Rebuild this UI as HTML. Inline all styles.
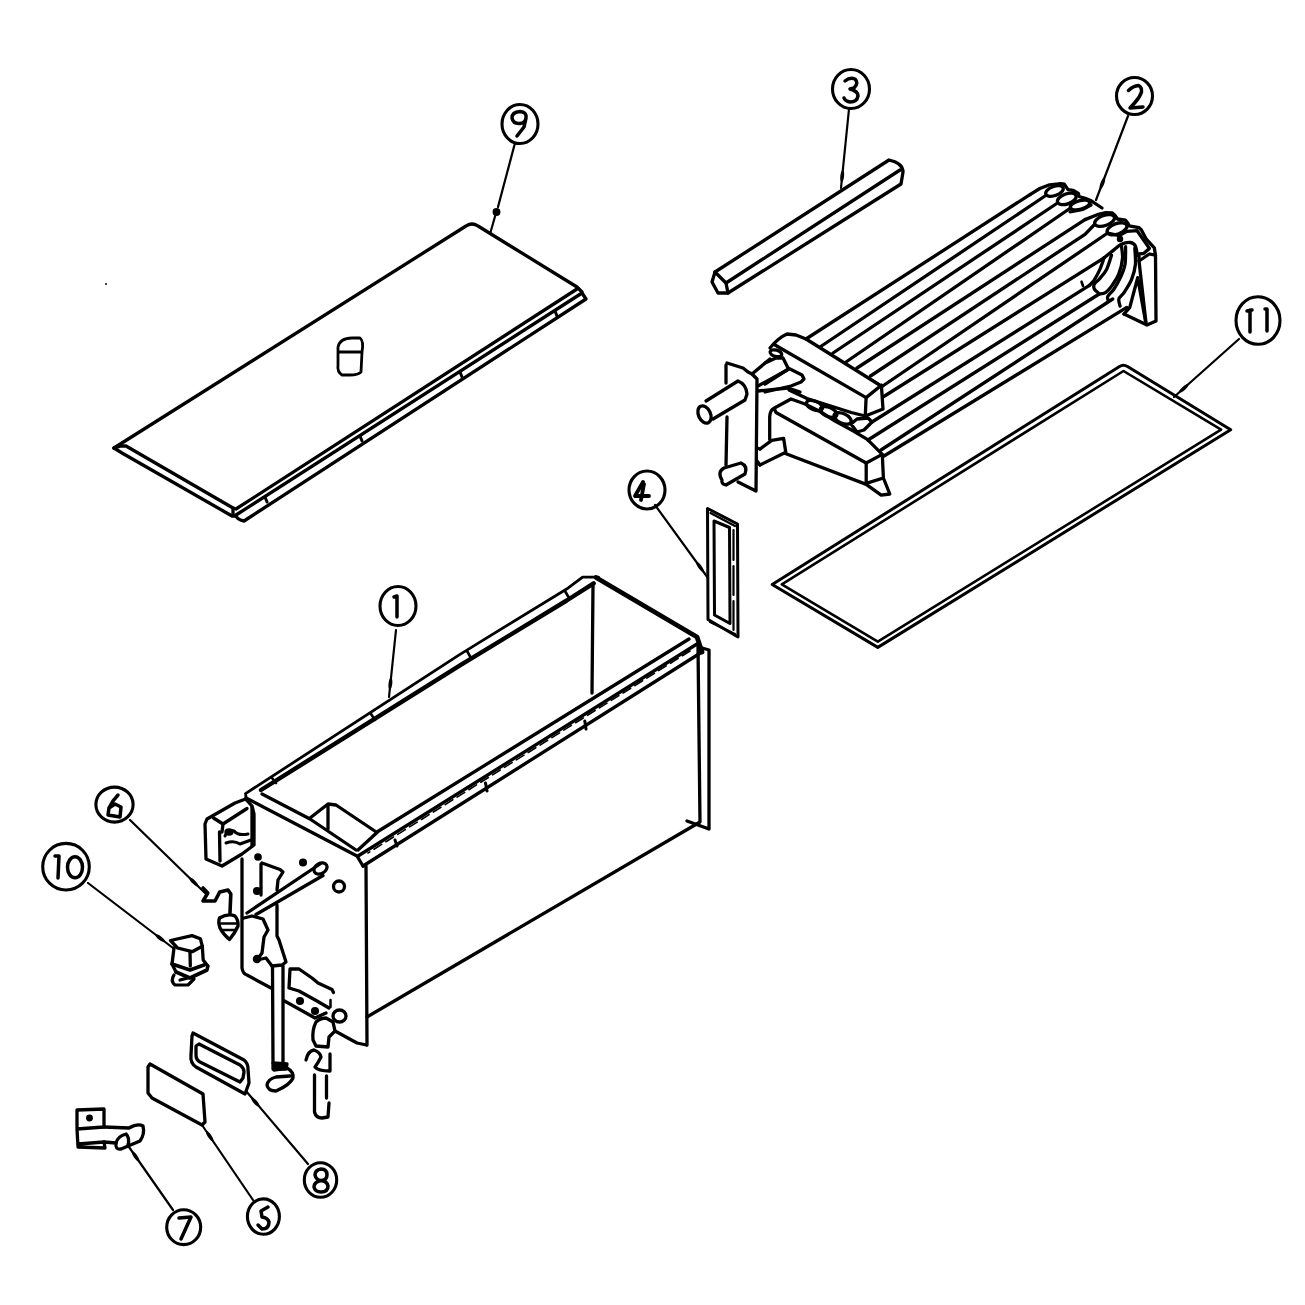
<!DOCTYPE html>
<html><head><meta charset="utf-8">
<style>
html,body{margin:0;padding:0;background:#fff;}
body{width:1305px;height:1305px;overflow:hidden;}
svg{display:block;}
</style></head><body>
<svg width="1305" height="1305" viewBox="0 0 1305 1305">
<g fill="none" stroke="#000" stroke-width="3.3" stroke-linecap="round" stroke-linejoin="round">

<!-- ===== callouts ===== -->
<g stroke-width="3.1">
<ellipse cx="520" cy="124" rx="18" ry="19.5"/>
<ellipse cx="851" cy="89" rx="18.5" ry="19.5"/>
<ellipse cx="1134.5" cy="96" rx="18" ry="18.5"/>
<ellipse cx="1258" cy="320.5" rx="22" ry="23.8"/>
<ellipse cx="647" cy="490" rx="18" ry="19"/>
<ellipse cx="398" cy="606" rx="18" ry="19.5"/>
<ellipse cx="114.5" cy="804.6" rx="18.6" ry="17.5"/>
<ellipse cx="66" cy="866.7" rx="23.3" ry="23.3"/>
<ellipse cx="320.5" cy="1180" rx="16.2" ry="17.3"/>
<ellipse cx="263.4" cy="1216.6" rx="16" ry="17.7"/>
<ellipse cx="183.7" cy="1227.2" rx="17" ry="17.4"/>
</g>
<path stroke-width="2.2" d="M515,143 L498,207 M496,213 L490,234 M849,109 L841,188 M1128,116 L1096,200 M1239,339 L1174,397 M655,505 L708,578 M396,630 L389,697 M130,820 L205,893 M88,883 L173,948 M308,1164 L246,1091 M253,1200 L202,1125 M173,1210 L129,1147"/>
<ellipse cx="842.2" cy="176.1" rx="6" ry="1.9" transform="rotate(95.8 842.2 176.1)" fill="#000" stroke="none"/>
<ellipse cx="1102.4" cy="183.2" rx="6" ry="1.9" transform="rotate(110.9 1102.4 183.2)" fill="#000" stroke="none"/>
<ellipse cx="1183.8" cy="388.3" rx="6" ry="1.9" transform="rotate(138.3 1183.8 388.3)" fill="#000" stroke="none"/>
<ellipse cx="700.0" cy="567.0" rx="6" ry="1.9" transform="rotate(54.0 700.0 567.0)" fill="#000" stroke="none"/>
<ellipse cx="390.4" cy="683.6" rx="6" ry="1.9" transform="rotate(96.0 390.4 683.6)" fill="#000" stroke="none"/>
<ellipse cx="193.8" cy="882.0" rx="6" ry="1.9" transform="rotate(44.2 193.8 882.0)" fill="#000" stroke="none"/>
<ellipse cx="160.2" cy="938.2" rx="6" ry="1.9" transform="rotate(37.4 160.2 938.2)" fill="#000" stroke="none"/>
<ellipse cx="255.3" cy="1102.0" rx="6" ry="1.9" transform="rotate(-130.3 255.3 1102.0)" fill="#000" stroke="none"/>
<ellipse cx="209.7" cy="1136.2" rx="6" ry="1.9" transform="rotate(-124.2 209.7 1136.2)" fill="#000" stroke="none"/>
<ellipse cx="135.6" cy="1156.5" rx="6" ry="1.9" transform="rotate(-124.9 135.6 1156.5)" fill="#000" stroke="none"/>

<circle cx="106" cy="284" r="1" fill="#000" stroke="none"/>
<!-- ===== panel 9 ===== -->
<path d="M114,448 L466,226 Q472,222 478,226 L577,287 L582,292"/>
<path d="M114,448 L121,446 L126,446 L233,508 L236,509 L577,289"/>
<path d="M114,448 L122,453 L232,516 L236,516"/>
<path d="M233,508 L233,515 M236,515 L582,293 L586,299 L244,521 Q238,520 236,516"/>
<path d="M265,497 L267,502 M360,436 L362,441 M460,372 L462,377 M555,311 L557,316" stroke-width="3"/>
<circle cx="496.5" cy="212" r="2.3" fill="#000"/>
<path d="M338,347 Q340,338 352,338 L360,338 Q364,341 362,352 L361,372 Q358,375 350,375 L342,375 Q337,372 338,365 Z M338,352 L362,352" stroke-width="2.8"/>

<!-- ===== rod 3 ===== -->
<path d="M715,272 L889,160 Q903,163 903,172 L901,184 L728,293"/>
<path d="M726,283 L900,170"/>
<path d="M715,272 L712,282 L718,293 L728,293 L726,283 Z"/>

<!-- ===== gasket 11 ===== -->
<path d="M772.2,584.5 L1119.5,366.5 Q1123.5,364 1127.5,366.5 L1230.7,429.7 L877.8,647.4 Z" stroke-width="3"/>
<path d="M781.8,584.4 L1123.5,371 L1221.1,429.7 L877.8,641.6 Z" stroke-width="2.6"/>

<!-- ===== gasket 4 ===== -->
<path d="M707.5,508.5 L737.5,524 L738,637 L708,619.5 Z" stroke-width="3"/>
<path d="M714,521 L729.5,527.5 L730,623.5 L714.5,615 Z" stroke-width="3"/>
<path d="M733.5,530 L733.5,560 M733.5,566 L733.5,595 M733.5,601 L733.5,630 M710,622 L735,634 M710.5,513 L735,526" stroke-width="2.2"/>

<!-- ===== box 1 ===== -->
<path d="M246,797 L245.5,793.6 L460,654.4 L567.9,588.2 L582.6,577.2 L598.5,577.2" stroke-width="2.8"/>
<path d="M261,790 L460,665.4 L566.7,600.5 L593.6,583.3" stroke-width="4.4"/>
<path d="M596,577.5 L697,637 L702,652" stroke-width="4.8"/>
<path d="M272,778 L276,783 M371,714 L375,720 M467,651 L471,658 M565,591 L569,598" stroke-width="2.6"/>
<path d="M593,585 L592,693"/>
<path d="M689,639 L377,832"/>
<path d="M697,644 L358,856"/>
<path d="M702,652 L363,866"/>
<path d="M246,798 L357,856 L363,866"/>
<path d="M262,794 L310,819 L356,850"/>
<path d="M310,818 L328,804 L336,805 L377,832.5 L358,850 M328,806 L328,829"/>
<path d="M690,651 L368,853" stroke-width="1.6" stroke-dasharray="9 5"/>
<path d="M485.5,783 L487,791 M584.8,721 L586,729 M395,840 L397,846" stroke-width="3"/>
<path d="M698,646 L700,822 L367,1017"/>
<path d="M702,648 L709,650 L709,829 L687,821"/>
<path d="M366,866 L367,1045"/>
<path d="M252,807 L252,846"/>

<!-- ===== coil 2 ===== -->
<g id="coil">
<!-- tube lines -->
<path d="M806,339 L1030,194.6 M820,347 L1045,196 M833,353 L1057.5,203 M846,362 L1070.5,208 M857,368 L1085,219.6 M870.5,376 L1085,234.3 L1094,225 M882,386.5 L1107.7,233 M883,397 L1104.1,257.8 M872,422 L1089.4,285.4 M868,440 L1099.2,294 M881,450 L1112.7,299 M884,456 L1126.8,307.4"/>
<!-- caps row 1 -->
<path d="M1030,194.6 L1039.8,188.5 L1049.6,184.8 L1060.7,183.6 L1064.3,184.2 L1068,189.7 L1072.9,190.3 L1078.4,193.4 L1079,196.5 L1085.2,198.3 L1091.3,200.8 L1102,208"/>
<ellipse cx="1054.5" cy="191" rx="9.2" ry="4.6" transform="rotate(-20 1054.5 191)"/>
<ellipse cx="1066.8" cy="198.9" rx="9.8" ry="5" transform="rotate(-20 1066.8 198.9)"/>
<ellipse cx="1080" cy="205" rx="10" ry="4.3" transform="rotate(-15 1080 205)"/>
<path d="M1070,211.8 L1083,209.3 L1091,205"/>
<!-- caps row 2 + outer bend + bracket -->
<path d="M1085,219.6 L1097.3,214.7 L1105.8,212.6 L1112,212.9 L1115,215.3 L1117.5,219 L1125.5,220.2 L1128,223.3 L1129.1,225.8 L1139,227.6 L1141.4,230 L1146.3,239.2 L1154.3,247.8 L1155.5,255.2 L1156,321 L1147,325 L1124,314"/>
<ellipse cx="1104.6" cy="220.5" rx="10.4" ry="5" transform="rotate(-20 1104.6 220.5)"/>
<ellipse cx="1117" cy="228.8" rx="10.4" ry="5.2" transform="rotate(-20 1117 228.8)"/>
<path d="M1107.7,233 L1119.3,235.6 L1126.7,231.3 L1137.1,230.7 L1149.4,248.4 L1143.9,253.3 L1139,254 L1139,261 L1146,323"/>
<path d="M1139,261 L1149.4,254 L1155.5,255.2"/>
<path d="M1104.1,257.8 C1103.4,259.7 1101.5,265.7 1099.9,269.4 C1098.3,273.1 1096.0,277.2 1094.3,279.9 C1092.5,282.6 1090.2,284.5 1089.4,285.4"/>
<path d="M1111.5,255.3 C1110.7,257.6 1108.6,265.4 1106.6,269.4 C1104.5,273.4 1101.2,276.8 1099.2,279.2 C1097.2,281.6 1095.1,282.5 1094.3,284.1 C1093.5,285.7 1093.7,287.6 1094.3,289.0 C1094.9,290.4 1097.4,292.1 1098.0,292.7"/>
<path d="M1121.3,244.9 C1121.5,247.2 1122.9,253.6 1122.5,258.4 C1122.1,263.2 1120.6,269.2 1118.9,273.7 C1117.2,278.2 1114.3,282.2 1112.1,285.4 C1109.8,288.6 1107.6,291.3 1105.4,292.7 C1103.2,294.1 1100.2,293.8 1099.2,294.0"/>
<path d="M1125.6,246.7 C1125.5,249.7 1125.8,259.5 1125.0,264.5 C1124.2,269.5 1122.5,272.7 1120.7,276.8 C1118.9,280.9 1116.2,285.7 1114.0,289.0 C1111.8,292.3 1108.7,294.4 1107.8,296.4 C1106.9,298.3 1108.3,300.0 1108.4,300.7"/>
<path d="M1134.8,248.0 C1134.9,250.8 1135.9,259.3 1135.4,264.5 C1134.9,269.7 1133.5,274.6 1131.7,279.2 C1129.9,283.8 1126.5,288.8 1124.4,292.1 C1122.3,295.4 1119.6,296.5 1118.9,298.9 C1118.2,301.2 1119.9,305.0 1120.1,306.2"/>
<path d="M1104.1,257.8 C1105.6,256.6 1110.4,252.7 1113.3,250.4 C1116.2,248.2 1118.4,245.6 1121.3,244.3 C1124.2,243.0 1128.2,242.2 1130.5,242.5 C1132.8,242.8 1134.3,244.0 1135.4,246.1 C1136.5,248.2 1137.0,253.8 1137.3,255.3"/>
<path d="M1081.5,281.7 L1083,286" stroke-width="2.6"/>
<path d="M1129.7,307.6 L1137.7,277.7 L1145.7,322.5 M1124,314 L1129.7,307.6"/>
<circle cx="1120" cy="239" r="1.6" fill="#000"/>
<!-- upper header -->
<path d="M770,348 Q778,338 787,334 L796,335 L806,339 L882,386.5 L881.4,385.3 L866.1,397.6 L775,345"/>
<path d="M881.4,385.3 L883,409 L865.3,416 L866.1,397.6"/>
<path d="M789,390 L807,398.6 L824.4,404 L851.2,412.5 L865.3,416"/>
<ellipse cx="776" cy="353.3" rx="6" ry="3.2" transform="rotate(15 776 353)"/>
<path d="M765,363 L776,358 L783,358 L788,368 L802,375 L804,379 L801,382 L791,386 L765,392"/>
<path d="M752,374 L770,359 M765,384 L787,370"/>
<!-- stubs between headers -->
<ellipse cx="814.5" cy="405.5" rx="8.5" ry="4.3" transform="rotate(22 814.5 405.5)"/>
<ellipse cx="828.6" cy="412" rx="8.8" ry="4.5" transform="rotate(22 828.6 412)"/>
<ellipse cx="842.6" cy="418.4" rx="9.2" ry="4.8" transform="rotate(25 842.6 418.4)"/>
<path d="M851,424 L857,419 L868,418 L872,422 L864,430 L857,432 Z"/>
<!-- lower header -->
<path d="M769.7,439.4 L769.7,416.8 Q770,410 774,408.2 L791,399 L805,404 L820,411.5 L835,421 L853,430.8 L867.3,439.4 L882.3,454.4 L866.2,463 L776,412.5 L774,408.2"/>
<path d="M882.3,454.4 L883.4,478 L866.2,483.3 L866.2,463 M784.7,453.3 L866.2,484.4 L881.2,495.2 L889.8,494 L883.4,478"/>
<path d="M760,449 L771.8,440.4 L783.6,438.3 L785.8,452.2 L760,465"/>
<!-- bracket plate -->
<path d="M727,363 L743,368 L748,372 L752,374 L757,379 L756,491 L738,482"/>
<path d="M726,365 L726,383 M727,417 L726,465"/>
<!-- upper pipe -->
<path d="M706,401 L738,381 Q746,384 747,394 L745,400 L713,419"/>
<ellipse cx="704.5" cy="414.5" rx="6" ry="9" transform="rotate(-25 704.5 414.5)"/>
<path d="M758,386 L788,369.5 M758,391 L788,388 L800,392"/>
<!-- lower small pipe -->
<path d="M722,480 Q717,472 724,468 L741,463 Q748,466 745,474 L738,478 L726,485 Q721,484 722,480 Z"/>
<path d="M757,448 L760,449 M757,461 L760,465"/>
</g>


<g id="front">
<!-- block bracket top-left of end panel -->
<path d="M207,819 L235,803 L245.5,799 L252,806 L254,814 L254,845 L242,854 L222,866 L206,859 L205,824 Z"/>
<path d="M213.5,818 L223,824 L247,808.5 M219.5,832 L220,861 M223,824 L222,832"/>
<path d="M225,836 Q227,829 234,831 Q238,836 248,834 M226,843 Q234,840 240,844 L251,840" stroke-width="3"/>
<ellipse cx="229" cy="832" rx="3" ry="2" fill="#000"/>
<!-- end panel details -->
<path d="M242,859 L242,968 Q243,974 247,975 L271,988"/>
<circle cx="258" cy="857" r="2.2" fill="#000"/>
<path d="M262,863 L280,869.5 L283,872 L278,880 L277,890 M261,864 L261,895"/>
<circle cx="257" cy="891" r="2.4" fill="#000"/>
<path d="M247,913 L320,864 M256,914.5 L323,875.5"/>
<ellipse cx="320.5" cy="868.5" rx="7" ry="5" transform="rotate(-30 320.5 868.5)"/>
<circle cx="303" cy="862.5" r="2.4" fill="#000"/>
<circle cx="339" cy="886.5" r="5.5"/>
<path d="M244,918 L252,916 L263,919 L268,930 L264,937 L262,953 L257,960 L266,958 L272,966"/>
<path d="M277,905 L277,936 L279,940 L286,962 L282,965 L272,966"/>
<circle cx="257" cy="959" r="2.6" fill="#000"/>
<!-- long vertical pipe -->
<path d="M272.5,966 L273,1063 M283,966 L283,1063"/>
<path d="M273,1063 L287,1064 L286,1069 L273,1069 Z" fill="#000"/>
<path d="M274,1070 L287,1068 Q294,1072 293,1078 Q290,1085 276,1091 Q268,1091 267,1085 Q268,1079 276,1077 L290,1076"/>
<!-- mount plate w/ slot -->
<path d="M290,969 L299,969 L312,978 L318,983 L332,989.5 L333.5,992.5 M290,969 L289,988 L299,991 L317,1001 L329,1008"/>
<path d="M284.5,1001 L315,1018 L326,1013"/>
<circle cx="300" cy="1001" r="2.4" fill="#000"/>
<circle cx="315" cy="1011" r="2.4" fill="#000"/>
<path d="M330.5,1000 L330.5,1007" stroke-width="2.5"/>
<!-- elbow -->
<ellipse cx="339.5" cy="1016" rx="6.5" ry="6" />
<path d="M316,1022 Q312,1030 313,1040 L316,1046 L328,1047 L329,1037 L335,1031 L333,1022 L326,1018 Q320,1018 316,1022"/>
<path d="M335,1031 L357,1043 L366.5,1045"/>
<!-- squiggle and lower pipe -->
<path d="M306,1060 Q308,1051 314,1050 Q320,1052 321,1057 Q318,1063 315,1067 Q318,1071 330,1071 L330,1054"/>
<path d="M314.5,1075 L314.5,1112 Q316,1118 322,1118 L328,1117 L329,1103 M326.5,1076 L326.5,1098"/>
</g>
<g id="parts">
<!-- part 6 wire clip -->
<path d="M203,888 L207.8,893 L203,901 L215,901 L219.7,892 L228,890 L230.8,894 L230,913" stroke-width="3.6"/>
<path d="M219.5,918 Q228,913 235,916 Q238.5,920 238,926 Q235,933 229.5,939.5 Q223,934 220,928 Q218,922 219.5,918 Z" stroke-width="3.4"/>
<path d="M221,923.5 L237,923.5 M223,930 L235,930" stroke-width="2.6"/>
<!-- part 10 -->
<path d="M170.5,940.5 L192,935.6 L200.4,938.8 L202.3,946.2 L192.2,951.7 L177.5,948 Z"/>
<path d="M174,948 L172,964 L176,972 M202.3,946.2 L203.2,960 L207.8,966 M190,952 L190.3,966"/>
<path d="M172,964 L190,970 L204,965 M176,972 L190,978 L207,970 L207.8,966" stroke-width="3.6"/>
<path d="M174,975 Q170,981 175,985 L188,985 L194,979 M180,980 L188,978" stroke-width="3.2"/>
<!-- part 8 gasket -->
<path d="M193,1033 L244,1060 Q248,1063 248,1069 L249,1083 L245,1094 L196,1067 Q190,1063 191,1055 L192,1036 Z"/>
<path d="M199,1044 L240,1065 Q244,1068 244,1072 L243,1078 L240,1082 L200,1062 Q196,1060 196,1055 L196,1046 Z"/>
<!-- part 5 plate -->
<path d="M150,1064 L203,1094 L205,1122 L202,1125 L152,1098 L148,1093 L148,1067 Z"/>
<!-- part 7 -->
<path d="M77,1110 L104,1109 L104,1127 L77,1129 Z M77,1129 L78,1147 L105,1148 L104,1142 L78,1144"/>
<path d="M104,1127 L129,1128 Q138,1123 143,1126 Q145,1134 140,1141 L121,1149 Q115,1150 116,1143 L104,1142"/>
<path d="M116,1143 Q118,1136 126,1134 Q130,1138 128,1145"/>
<circle cx="89.5" cy="1118" r="1.8" fill="#000"/>
</g>
<g id="digits" stroke-width="3.5">
<!-- 9 -->
<path d="M526,118 Q527,112 520,111.5 Q512,112 512,118 Q513,124 520,123.5 Q525,123 526,118 L524,127 L517,136"/>
<!-- 3 -->
<path d="M845,81 Q850,77 855,79 Q859,83 854,88 L850,89 Q858,91 858,96 Q857,102 850,102 Q845,101 844,98"/>
<!-- 2 -->
<path d="M1128.5,90.5 Q1133,86 1138.5,85.5 Q1142,87 1141.5,92 Q1140,97 1135,102.5 L1130,108 L1143,107"/>
<!-- 11 -->
<path d="M1247,311 L1252,310 M1250,310 L1250,332 M1265,309 L1267,309 L1267,331"/>
<!-- 4 -->
<path d="M643,482 L635,496 L649,496 M644,484 L641,500" stroke-width="3.8"/>
<!-- 1 -->
<path d="M394,597 L397,596 L397,617"/>
<!-- 6 -->
<path d="M118,795 Q112,801 109,808 L108,815 L120,817 L121,807 L115,804 L109,808"/>
<!-- 10 -->
<path d="M55,856 L59,856 L58,878"/>
<ellipse cx="75" cy="867.3" rx="7.5" ry="10.5"/>
<!-- 8 -->
<path d="M321,1169 Q315,1170 315,1175 Q316,1180 321,1180.5 Q327,1180 327,1175 Q327,1169 321,1169 Z M321,1180.5 Q314,1182 314,1187 Q315,1192 321,1192 Q328,1192 328,1186 Q327,1181 321,1180.5"/>
<!-- 5 -->
<path d="M268,1207 L261,1211 L262,1217 Q268,1218 269,1222 Q269,1229 262,1229 L258,1225"/>
<!-- 7 -->
<path d="M179,1218 L191,1217 L181,1239"/>
</g>
</g>
</svg>
</body></html>
